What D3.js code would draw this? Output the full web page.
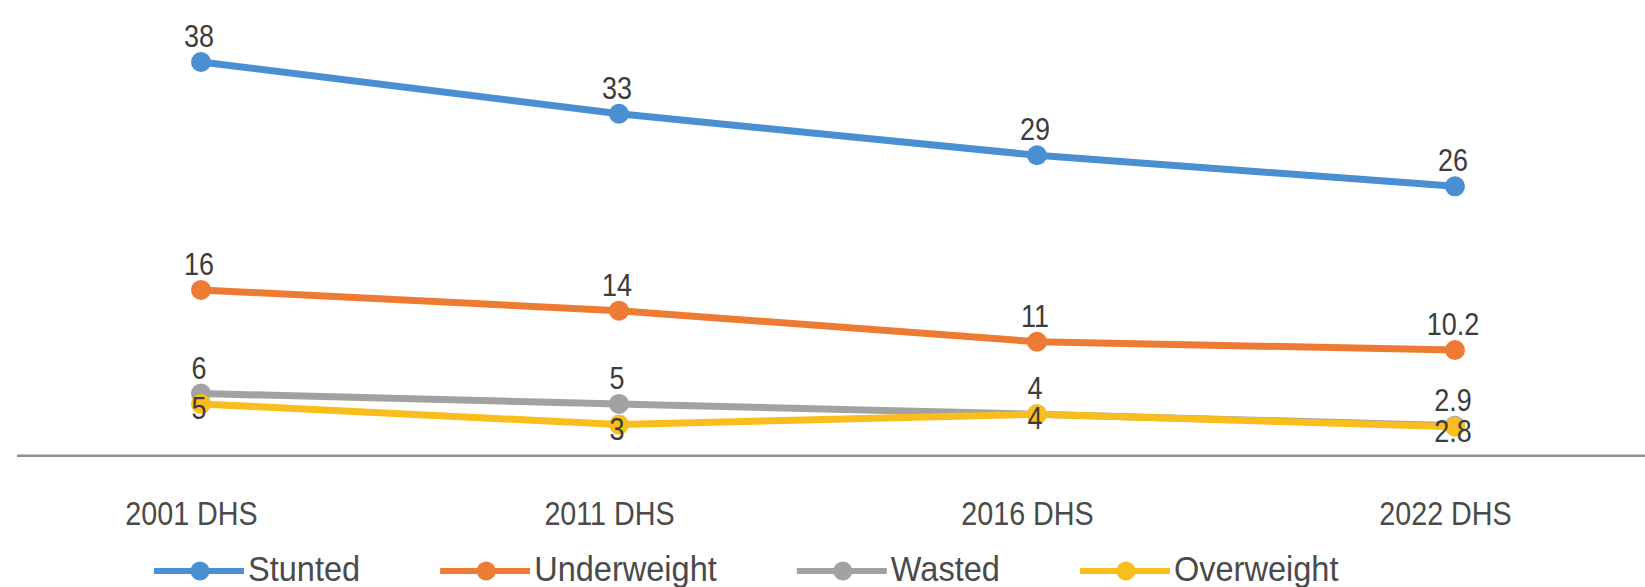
<!DOCTYPE html>
<html>
<head>
<meta charset="utf-8">
<script src="https://cdn.jsdelivr.net/npm/d3@7"></script>
<style>
  body { margin: 0; background: #fff; }
  svg { display: block; }
  text { font-family: "Liberation Sans", Arial, sans-serif; }
</style>
</head>
<body>
<svg id="chart" width="1645" height="587"></svg>
<script>
// Survey rounds and prevalence (%) among children under five
const surveys = ["2001 DHS", "2011 DHS", "2016 DHS", "2022 DHS"];
const stunted = [38, 33, 29, 26];
const underweight = [16, 14, 11, 10.2];
const wasted = [6, 5, 4, 2.9];
const overweight = [5, 3, 4, 2.8];

const seriesNames = ["Stunted", "Underweight", "Wasted", "Overweight"];
const seriesValues = [stunted, underweight, wasted, overweight];
const seriesColors = ["#4a8fd2", "#ed7b33", "#a2a2a2", "#f9bd1e"];
const labelBelow = [false, false, false, true];

const W = 1645, H = 587;
const NARROW = 0.87;        // horizontal squeeze for a condensed look
const LEGEND_NARROW = 0.93;
const svg = d3.select("#chart");

const x = d3.scalePoint().domain(surveys).range([201, 1455]);
const y = d3.scaleLinear().domain([0, 38]).range([455.7, 62]);

// place a text at (tx, ty) with condensed glyphs
function narrowAt(sel, tx, ty, k = NARROW) {
  sel.attr("x", 0).attr("y", 0).attr("dy", 0).attr("dx", 0)
    .attr("transform", `translate(${tx},${ty}) scale(${k},1)`);
}

// baseline across the full width
svg.append("line")
  .attr("x1", 17).attr("x2", W)
  .attr("y1", y(0)).attr("y2", y(0))
  .attr("stroke", "#8f8f8f").attr("stroke-width", 2.5);

// category labels
const xAxis = svg.append("g")
  .attr("transform", `translate(0,${y(0)})`)
  .call(d3.axisBottom(x).tickSize(0));
xAxis.select(".domain").remove();
xAxis.selectAll("text")
  .call(narrowAt, -10, 69)
  .attr("fill", "#4a4a4a")
  .style("font-size", "33px");

const line = d3.line()
  .x((d, i) => x(surveys[i]))
  .y(d => y(d));

seriesValues.forEach((vals, s) => {
  const g = svg.append("g");
  g.append("path")
    .datum(vals)
    .attr("d", line)
    .attr("fill", "none")
    .attr("stroke", seriesColors[s])
    .attr("stroke-width", 7)
    .attr("stroke-linejoin", "round");
  g.selectAll("circle")
    .data(vals)
    .join("circle")
    .attr("cx", (d, i) => x(surveys[i]))
    .attr("cy", d => y(d))
    .attr("r", 10)
    .attr("fill", seriesColors[s]);
});

// value labels drawn last so they sit on top of the lines
seriesValues.forEach((vals, s) => {
  svg.append("g").selectAll("text")
    .data(vals)
    .join("text")
    .each(function (d, i) {
      d3.select(this).call(narrowAt, x(surveys[i]) - 2,
        labelBelow[s] ? y(d) + 15 : y(d) - 15);
    })
    .attr("text-anchor", "middle")
    .attr("fill", "#3c3c3c")
    .style("font-size", "31px")
    .text(d => d);
});

// legend
const legend = svg.append("g");
let lx = 154;
seriesNames.forEach((name, s) => {
  const item = legend.append("g").attr("transform", `translate(${lx},571)`);
  item.append("line")
    .attr("x1", 0).attr("x2", 90)
    .attr("stroke", seriesColors[s]).attr("stroke-width", 6);
  item.append("circle")
    .attr("cx", 46).attr("r", 9.5)
    .attr("fill", seriesColors[s]);
  const t = item.append("text")
    .call(narrowAt, 94, 10, LEGEND_NARROW)
    .attr("fill", "#4a4a4a")
    .style("font-size", "35px")
    .text(name);
  lx += 94 + t.node().getComputedTextLength() * LEGEND_NARROW + 80;
});
</script>
</body>
</html>
